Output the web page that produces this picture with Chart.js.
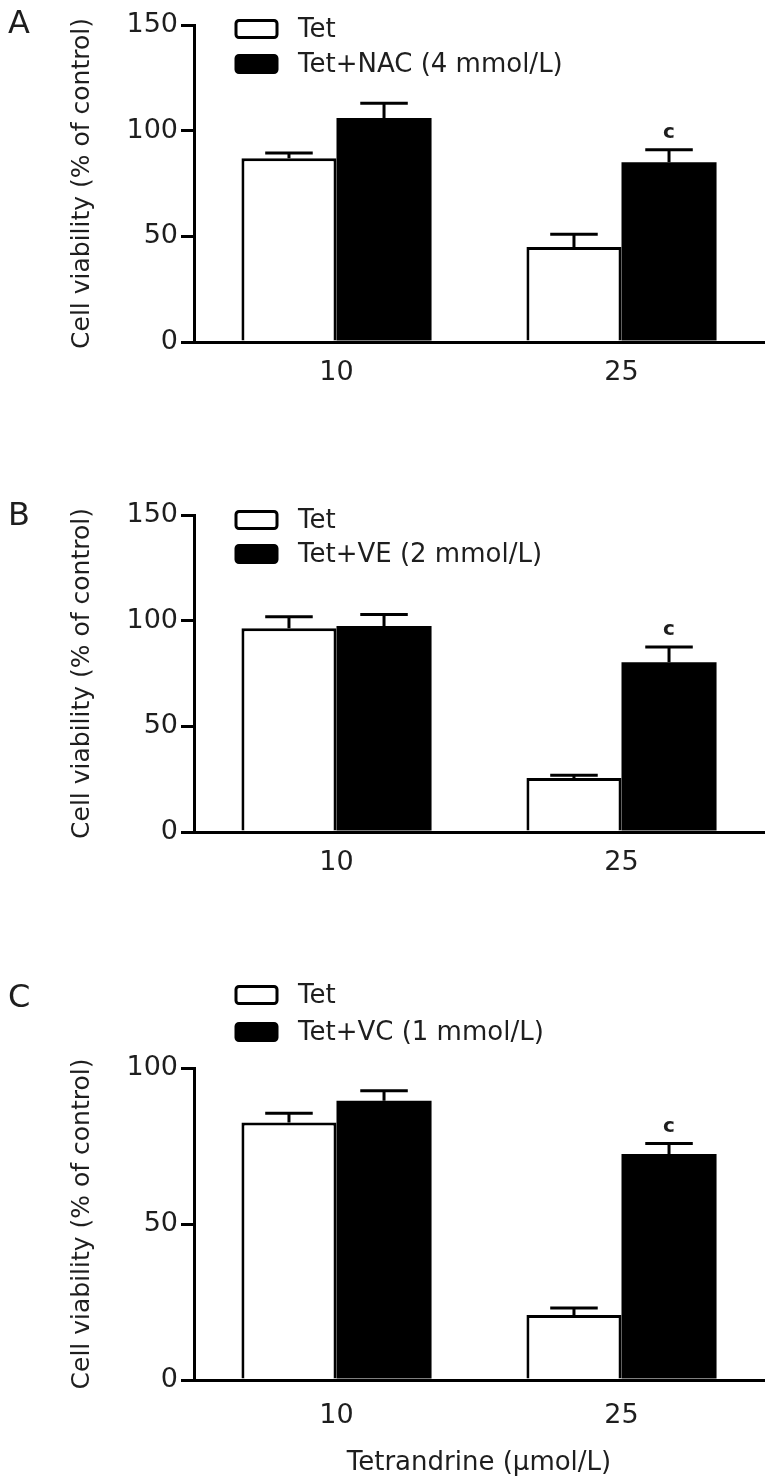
<!DOCTYPE html>
<html><head><meta charset="utf-8">
<script src="https://cdn.jsdelivr.net/npm/chart.js@4.4.1/dist/chart.umd.min.js"></script>
<style>
html,body{margin:0;padding:0;background:#fff;width:773px;height:1484px;overflow:hidden;position:relative}
canvas{position:absolute;left:0}
</style></head><body>
<canvas id="cA" width="773" height="420" style="top:0px"></canvas>
<canvas id="cB" width="773" height="420" style="top:490px"></canvas>
<canvas id="cC" width="773" height="518" style="top:966px"></canvas>
<script>
// ---- data ----
const categories = ['10', '25'];
const panelLetters = ['A', 'B', 'C'];
const tetLabel = 'Tet';
const treatLabels = ['Tet+NAC (4 mmol/L)', 'Tet+VE (2 mmol/L)', 'Tet+VC (1 mmol/L)'];

const tetValuesA = [87, 45];
const tetErrorsA = [2.4, 6];
const treatValuesA = [106, 85];
const treatErrorsA = [7, 6];

const tetValuesB = [96.4, 25.6];
const tetErrorsB = [5.5, 1.2];
const treatValuesB = [97.5, 80.3];
const treatErrorsB = [5.4, 7.2];

const tetValuesC = [82.5, 20.8];
const tetErrorsC = [3, 2.3];
const treatValuesC = [89.5, 72.4];
const treatErrorsC = [3.2, 3.4];

const tetMarks = ['', ''];
const treatMarks = ['', 'c'];

const yTicksAB = [0, 50, 100, 150];
const yTicksC = [0, 50, 100];
const yTitle = 'Cell viability (% of control)';
const xTitle = 'Tetrandrine (\u03bcmol/L)';

// ---- styling ----
const FAM = '"DejaVu Sans", Verdana, sans-serif';
const TXT = '#1e1e1e';

const errorBarPlugin = {
  id: 'errorBars',
  afterDatasetsDraw(chart) {
    const ctx = chart.ctx;
    const yScale = chart.scales.y;
    ctx.save();
    chart.data.datasets.forEach((ds, i) => {
      const meta = chart.getDatasetMeta(i);
      meta.data.forEach((el, j) => {
        const v = ds.data[j], e = ds.errors[j];
        const yTop = yScale.getPixelForValue(v + e);
        const half = el.width / 4;
        ctx.strokeStyle = '#000';
        ctx.lineWidth = 3;
        ctx.lineCap = 'butt';
        ctx.beginPath();
        ctx.moveTo(el.x, el.y);
        ctx.lineTo(el.x, yTop);
        ctx.moveTo(el.x - half, yTop);
        ctx.lineTo(el.x + half, yTop);
        ctx.stroke();
        if (ds.marks && ds.marks[j]) {
          ctx.fillStyle = TXT;
          ctx.font = 'bold 20px ' + FAM;
          ctx.textAlign = 'center';
          ctx.textBaseline = 'middle';
          ctx.fillText(ds.marks[j], el.x, yTop - 17);
        }
      });
    });
    ctx.restore();
  }
};

const decoPlugin = {
  id: 'deco',
  afterDraw(chart, args, opts) {
    const ctx = chart.ctx;
    ctx.save();
    // panel letter
    ctx.fillStyle = TXT;
    ctx.font = '32px ' + FAM;
    ctx.textAlign = 'left';
    ctx.textBaseline = 'middle';
    ctx.fillText(opts.letter, 8, opts.letterY);
    // legend
    chart.data.datasets.forEach((ds, i) => {
      const cy = opts.legendY[i];
      const bx = 236, bw = 41, bh = 17;
      ctx.beginPath();
      ctx.roundRect(bx, cy - bh / 2, bw, bh, 3);
      ctx.fillStyle = ds.backgroundColor;
      ctx.fill();
      ctx.lineWidth = 3;
      ctx.strokeStyle = '#000';
      ctx.stroke();
      ctx.fillStyle = TXT;
      ctx.font = '26px ' + FAM;
      ctx.textAlign = 'left';
      ctx.textBaseline = 'middle';
      ctx.fillText(ds.label, 298, cy + 1);
    });
    ctx.restore();
  }
};

function makeChart(id, cfg) {
  const H = document.getElementById(id).height;
  const xScale = {
    afterFit: s => { s.height = H - cfg.plotBottom; },
    border: { display: true, color: '#000', width: 3 },
    grid: { display: false, drawTicks: false },
    ticks: { color: TXT, font: { family: FAM, size: 27 }, padding: cfg.xTickPad },
    title: cfg.showXTitle ? { display: true, text: xTitle, color: TXT, font: { family: FAM, size: 26 }, padding: { top: 0, bottom: 5 } } : { display: false }
  };
  return new Chart(document.getElementById(id), {
    type: 'bar',
    data: {
      labels: categories,
      datasets: [
        { label: tetLabel, data: cfg.tetValues, errors: cfg.tetErrors, marks: tetMarks,
          backgroundColor: '#ffffff', borderColor: '#000000', borderWidth: 3, borderSkipped: 'start' },
        { label: cfg.treatLabel, data: cfg.treatValues, errors: cfg.treatErrors, marks: treatMarks,
          backgroundColor: '#000000', borderColor: '#000000', borderWidth: 0 }
      ]
    },
    options: {
      responsive: false,
      animation: false,
      devicePixelRatio: 1,
      layout: { padding: { top: cfg.plotTop, right: 9, left: 0, bottom: 0 } },
      datasets: { bar: { categoryPercentage: 0.667, barPercentage: 1.0 } },
      plugins: {
        legend: { display: false },
        tooltip: { enabled: false },
        deco: { letter: cfg.letter, letterY: cfg.letterY, legendY: cfg.legendY }
      },
      scales: {
        x: xScale,
        y: {
          min: 0,
          max: cfg.yTicks[cfg.yTicks.length - 1],
          afterBuildTicks: s => { s.ticks = cfg.yTicks.map(v => ({ value: v })); },
          afterFit: s => { s.width = 194; },
          border: { display: true, color: '#000', width: 3 },
          grid: { display: true, drawOnChartArea: false, drawTicks: true, tickLength: 13, color: '#000', lineWidth: 3 },
          ticks: { color: TXT, font: { family: FAM, size: 27 }, padding: 3 },
          title: { display: true, text: yTitle, color: TXT, font: { family: FAM, size: 25 }, padding: { top: 67, bottom: 0 } }
        }
      }
    },
    plugins: [errorBarPlugin, decoPlugin]
  });
}

makeChart('cA', {
  letter: panelLetters[0], letterY: 25, legendY: [29, 64],
  treatLabel: treatLabels[0],
  tetValues: tetValuesA, tetErrors: tetErrorsA, treatValues: treatValuesA, treatErrors: treatErrorsA,
  yTicks: yTicksAB, plotTop: 25, plotBottom: 342, xTickPad: 15, showXTitle: false
});
makeChart('cB', {
  letter: panelLetters[1], letterY: 27, legendY: [30, 64],
  treatLabel: treatLabels[1],
  tetValues: tetValuesB, tetErrors: tetErrorsB, treatValues: treatValuesB, treatErrors: treatErrorsB,
  yTicks: yTicksAB, plotTop: 25, plotBottom: 342, xTickPad: 15, showXTitle: false
});
makeChart('cC', {
  letter: panelLetters[2], letterY: 33, legendY: [29, 66],
  treatLabel: treatLabels[2],
  tetValues: tetValuesC, tetErrors: tetErrorsC, treatValues: treatValuesC, treatErrors: treatErrorsC,
  yTicks: yTicksC, plotTop: 102, plotBottom: 414, xTickPad: 20, showXTitle: true
});
</script>
</body></html>
